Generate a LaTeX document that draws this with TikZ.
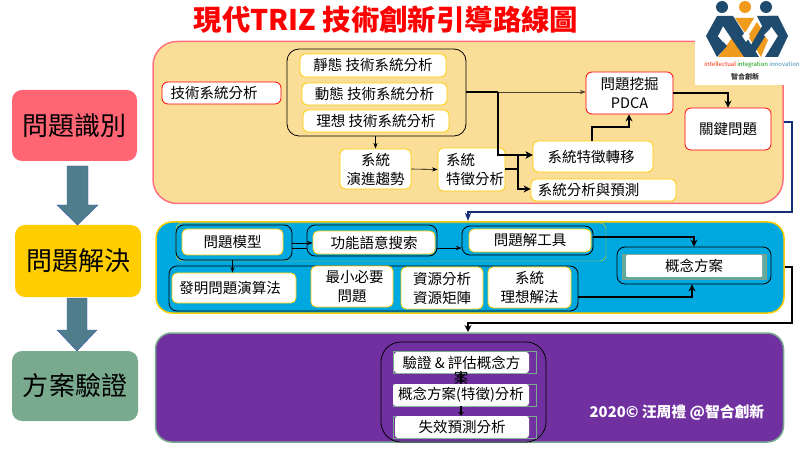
\documentclass[tikz,border=0pt]{standalone}
\usepackage{fontspec}
\setmainfont{Noto Sans CJK TC}
\usetikzlibrary{arrows,arrows.meta,calc}
\definecolor{sand}{RGB}{250,221,150}
\definecolor{rosa}{RGB}{255,112,128}
\definecolor{cielo}{RGB}{0,168,224}
\definecolor{oro}{RGB}{255,205,0}
\definecolor{viola}{RGB}{112,48,160}
\definecolor{salvia}{RGB}{122,170,142}
\definecolor{ardesia}{RGB}{80,125,140}
\definecolor{navy}{RGB}{20,45,120}
\definecolor{blulogo}{RGB}{30,75,110}
\definecolor{arancio}{RGB}{240,155,30}
\tikzset{
>=Stealth,
scatola/.style 2 args={rectangle,minimum width=#1,minimum height=#2,inner sep=0pt,align=center,font=\fontsize{14.5}{19}\selectfont},
bianco/.style={draw=oro,fill=white,thick,rounded corners=5pt},
rosso/.style={draw=red,fill=white,thick,rounded corners=6pt},
gruppo/.style={draw=black,thick,rounded corners=8pt},
fase/.style={rounded corners=10pt},
pannello/.style={line width=1.5pt,rounded corners=24pt},
freccia/.style={->,semithick},
grossa/.style={->,line width=1.5pt,>={Stealth[length=7pt,width=7pt]}},
corta/.style={->,line width=1.4pt,>={Stealth[length=4pt,width=6pt]}},
blocco/.style={fill=ardesia,draw=ardesia!70!blue}}
\begin{document}
\begin{tikzpicture}[x=1pt,y=-1pt]
\useasboundingbox (0,0) rectangle (800,454);

% panels
\node (p1) [pannello,draw=rosa,fill=sand,scatola={630pt}{162pt}] at (468,122.5) {};
\node (p2) [pannello,draw=oro,fill=cielo,scatola={628pt}{91pt},rounded corners=16pt] at (470,267.5) {};
\node (p3) [pannello,draw=salvia,fill=viola,scatola={628pt}{109pt},rounded corners=16pt] at (469.5,387.5) {};

% stages
\node (fase1) [fase,fill=rosa!90!red,scatola={125pt}{71pt},font=\fontsize{26}{30}\selectfont] at (74.5,125.5) {問題識別};
\node (fase2) [fase,fill=oro,scatola={126pt}{72pt},font=\fontsize{26}{30}\selectfont] at (78,261) {問題解決};
\node (fase3) [fase,fill=salvia,scatola={126pt}{70pt},font=\fontsize{26}{30}\selectfont] at (75,386) {方案驗證};
\draw[blocco] (67,166) -- (88,166) -- (88,205) -- (98,205) -- (77.5,225) -- (57,205) -- (67,205) -- cycle;
\draw[blocco] (67,298) -- (87,298) -- (87,330) -- (97,330) -- (77,351) -- (57,330) -- (67,330) -- cycle;

% title
\node (titolo) [font=\bfseries\fontsize{28.4}{32}\selectfont,text=red,inner sep=0pt] at (386,20) {現代TRIZ 技術創新引導路線圖};

% first panel
\node (analisi) [rosso,scatola={119pt}{22pt}] at (221.5,93) {\hspace*{-15pt}技術系統分析};
\node (g1) [gruppo,scatola={179pt}{87pt},rounded corners=12pt] at (376.5,92.5) {};
\node (statico) [bianco,scatola={146pt}{23pt}] at (373,65.5) {靜態 技術系統分析};
\node (dinamico) [bianco,scatola={145pt}{22pt}] at (374.5,94) {動態 技術系統分析};
\node (ideale) [bianco,scatola={146pt}{22pt}] at (376,121) {理想 技術系統分析};
\node (trend) [bianco,scatola={71pt}{40pt}] at (375.5,169) {系統\\演進趨勢};
\node (tratti) [bianco,scatola={67pt}{43pt},align=left] at (471.5,169.5) {\hspace*{7pt}系統\\\hspace*{7pt}特徵分析};
\node (pdca) [rosso,scatola={87pt}{42pt}] at (629.5,93) {問題挖掘\\PDCA};
\node (chiave) [rosso,scatola={86pt}{42pt}] at (728,129) {關鍵問題};
\node (transfer) [bianco,scatola={120pt}{31pt}] at (593,156.5) {\hspace*{-4pt}系統特徵轉移};
\node (previsione) [bianco,scatola={145pt}{22pt}] at (603.5,190) {\hspace*{-30pt}系統分析與預測};

\coordinate (a1) at (498,92);
\coordinate (a2) at (518,169);
\draw[line width=1.5pt] (g1.east |- a1) -- (a1);
\draw[freccia,black!70!sand] (a1) -- (pdca.west |- a1);
\draw[grossa] (a1) |- (transfer.west |- 0,155);
\draw[line width=1.5pt] (tratti.east |- a2) -- (a2);
\draw[grossa] (a2) |- (transfer.west |- 0,155);
\draw[grossa] (a2) |- (previsione.west |- 0,189);
\draw[freccia] (g1.south -| trend) -- (trend.north);
\draw[freccia] (trend.east) -- (tratti.west);
\draw[grossa] (592,141) |- (629,127) -- (pdca.south -| 629,0);
\draw[grossa] (pdca.east) -| (chiave.north);
\draw[->,semithick,navy,line width=1.2pt] (p1.east |- 0,122) -| (792,212) -| (468,221);

% second panel
\node (oroline) [draw=oro,rounded corners=6pt,scatola={430pt}{38pt}] at (391,242) {};
\node (g2) [gruppo,scatola={116pt}{35pt}] at (234,242.5) {};
\node (g3) [gruppo,scatola={130pt}{31pt}] at (372,240.5) {};
\node (g4) [gruppo,scatola={131pt}{29pt}] at (527.5,240.5) {};
\node (g5) [gruppo,scatola={409pt}{45pt}] at (373.5,288.5) {};
\node (g6) [gruppo,scatola={154pt}{37pt}] at (694,265.5) {};
\node (modello) [bianco,scatola={101pt}{26pt}] at (232.5,242) {問題模型};
\node (ricerca) [bianco,scatola={122pt}{23pt}] at (374,242.5) {功能語意搜索};
\node (strumento) [bianco,scatola={122pt}{23pt}] at (530,240.5) {問題解工具};
\node (invenzione) [bianco,scatola={124pt}{30pt}] at (234,288) {\hspace*{-8pt}發明問題演算法};
\node (minimo) [bianco,scatola={82pt}{41pt}] at (352,286.5) {\hspace*{5pt}最小必要\\問題};
\node (risorse) [bianco,scatola={82pt}{42pt}] at (442,288) {資源分析\\資源矩陣};
\node (soluzione) [bianco,scatola={83pt}{41pt}] at (529.5,287.5) {系統\\理想解法};
\node (concetto0) [draw=salvia!80!gray,fill=salvia!80!cielo,scatola={144pt}{25pt}] at (694,266.5) {};
\node (concetto) [fill=white,rounded corners=1pt,scatola={136pt}{22pt}] at (694,266) {概念方案};

\coordinate (b1) at (694,237);
\coordinate (b2) at (692,297);
\draw[freccia] (g2.east |- 0,243) -- (ricerca.west |- 0,243);
\draw[semithick] (g2.east |- 0,248) -- (g3.west |- 0,248);
\draw[freccia] (g3.east |- 0,248) -- (g4.west |- 0,248);
\draw[freccia] (g2.south -| modello) -- (invenzione.north -| modello);
\draw[grossa] (g4.east |- b1) -| (g6.north -| b1);
\draw[grossa] (g5.east |- b2) -| (g6.south -| b2);
\draw[grossa,line width=1.2pt] (p2.east |- 0,267) -| (792,323) -| (468,332);

% third panel
\node (g7) [gruppo,scatola={165pt}{100pt},rounded corners=20pt] at (463.5,392) {};
\foreach \nome/\yy in {uno/362.5,due/395,tre/427}
  \node (\nome) [draw=salvia,scatola={143pt}{22pt}] at (465,\yy) {};
\node (verifica) [fill=white,rounded corners=3pt,scatola={135pt}{21pt}] at (461.5,362.5) {驗證 \& 評估概念方};
\node (verifica2) [scatola={14pt}{10pt},text=black] at (461,378) {案};
\node (tratto) [fill=white,rounded corners=3pt,scatola={136pt}{22pt}] at (461,395) {概念方案(特徵)分析};
\node (guasto) [fill=white,rounded corners=3pt,scatola={134pt}{22pt}] at (462,427) {失效預測分析};
\draw[corta] (verifica.south -| 461,0) -- (tratto.north -| 461,0);
\draw[corta] (tratto.south -| 461,0) -- (guasto.north -| 461,0);
\node (firma) [text=white,font=\bfseries\fontsize{14.8}{17}\selectfont,inner sep=0pt] at (677,413) {2020© 汪周禮 @智合創新};

% logo
\fill[white] (695,0) rectangle (800,85);
\fill[blulogo] (722,7) circle (6);
\fill[arancio] (745,7) circle (6);
\fill[blulogo] (766,7) circle (6);
\fill[arancio] (735,18) -- (754,18) -- (745,33) -- cycle;
\fill[arancio] (718,57) -- (732,38) -- (745,57) -- cycle;
\fill[arancio] (757,22) -- (768,40) -- (761,57) -- (748,36) -- cycle;
\fill[blulogo] (706,36) -- (717,16) -- (733,16) -- (759,57) -- (744,57) -- (723,26) -- (718,36) -- (727,46) -- (717,57) -- cycle;
\fill[blulogo] (744,57) -- (768,16) -- (778,16) -- (752,57) -- cycle;
\fill[blulogo] (757,16) -- (778,16) -- (788,36) -- (778,57) -- (765,57) -- (778,36) -- (768,22) -- (762,26) -- cycle;
\fill[white] (723,31) -- (728,36) -- (723,42) -- (718,36) -- cycle;
\fill[white] (746,31) -- (750,36) -- (746,42) -- (742,36) -- cycle;
\fill[white] (769,30) -- (774,35) -- (769,41) -- (764,35) -- cycle;
\node (logo1) [inner sep=0pt,font=\fontsize{6}{7}\selectfont] at (752,65) {\textcolor{red!70!orange}{intellectual} \textcolor{green!60!black}{integration} \textcolor{cyan!70!black}{innovation}};
\node (logo2) [inner sep=0pt,font=\bfseries\fontsize{7}{9}\selectfont,text=black!80] at (745,77) {智合創新};
\end{tikzpicture}
\end{document}
